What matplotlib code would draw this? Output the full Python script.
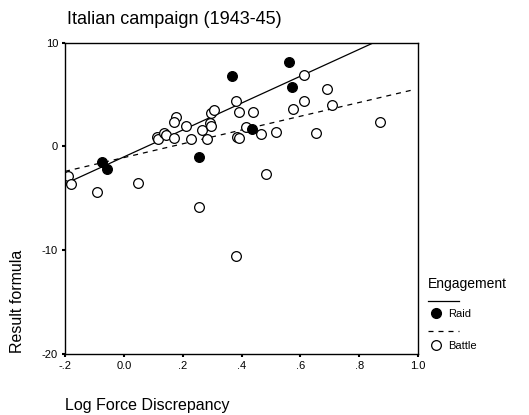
import matplotlib
matplotlib.use("Agg")
import matplotlib.pyplot as plt
from matplotlib.lines import Line2D
import numpy as np

plt.rcParams['font.family'] = ['Liberation Sans', 'DejaVu Sans']
plt.rcParams['axes.unicode_minus'] = False

# Raid engagements (filled)
raid_x = [-0.074, -0.057, 0.257, 0.368, 0.560, 0.570, 0.435]
raid_y = [-1.48, -2.15, -1.02, 6.82, 8.14, 5.73, 1.71]

# Battle engagements (open)
battle_x = [-0.189, -0.181, -0.090, 0.048, 0.257, 0.382, 0.112, 0.117, 0.138, 0.143,
            0.171, 0.178, 0.172, 0.210, 0.228, 0.265, 0.282, 0.293, 0.296, 0.297,
            0.307, 0.382, 0.390, 0.440, 0.386, 0.393, 0.416, 0.467, 0.484, 0.518,
            0.576, 0.611, 0.611, 0.654, 0.690, 0.707, 0.871]
battle_y = [-2.80, -3.57, -4.43, -3.53, -5.79, -10.57, 0.87, 0.71, 1.25, 1.10,
            0.81, 2.86, 2.38, 1.93, 0.74, 1.61, 0.71, 2.26, 1.95, 3.22,
            3.54, 4.41, 3.32, 3.32, 0.96, 0.77, 1.90, 1.20, -2.63, 1.39,
            3.60, 4.34, 6.85, 1.29, 5.53, 4.02, 2.32]

# fit lines (value at x=-0.2, slope)
raid_fit = (-3.6, 12.96)
battle_fit = (-2.4, 6.64)

xticks = [-0.2, 0.0, 0.2, 0.4, 0.6, 0.8, 1.0]
xticklabels = ['-.2', '0.0', '.2', '.4', '.6', '.8', '1.0']
yticks = [-20, -10, 0, 10]

W, H = 529, 415
fig = plt.figure(figsize=(W / 100, H / 100), dpi=100)
ax = fig.add_axes([65 / W, 1 - 354 / H, (418 - 65) / W, (354 - 42.7) / H])

xs = np.array([-0.2, 1.0])
ax.plot(xs, raid_fit[0] + raid_fit[1] * (xs + 0.2), color='black', lw=0.9)
xb = np.array([-0.2, 0.985])
ax.plot(xb, battle_fit[0] + battle_fit[1] * (xb + 0.2), color='black', lw=0.9,
        dashes=(4, 4))

ax.plot(battle_x, battle_y, 'o', ms=7, mfc='white', mec='black', mew=0.9)
ax.plot(raid_x, raid_y, 'o', ms=7, mfc='black', mec='black', mew=0.9)

ax.set_xlim(-0.2, 1.0)
ax.set_ylim(-20, 10)
ax.set_xticks(xticks)
ax.set_xticklabels(xticklabels)
ax.set_yticks(yticks)
ax.tick_params(direction='out', length=2, width=1.5, labelsize=8, pad=3)
for s in ax.spines.values():
    s.set_linewidth(1.0)

fig.text(67 / W, 1 - 24 / H, 'Italian campaign (1943-45)', fontsize=13, ha='left',
         va='baseline')
fig.text(65 / W, 1 - 410 / H, 'Log Force Discrepancy', fontsize=11.5, ha='left',
         va='baseline')
fig.text(25 / W, 1 - 353 / H, 'Result formula', fontsize=11.5, rotation=90,
         ha='right', va='bottom')

# legend
fig.text(428 / W, 1 - 288 / H, 'Engagement', fontsize=10, ha='left', va='baseline')
fig.add_artist(Line2D([428 / W, 459 / W], [1 - 300.5 / H, 1 - 300.5 / H],
                      color='black', lw=0.9))
fig.add_artist(Line2D([436 / W], [1 - 313 / H], marker='o', ms=7, mfc='black',
                      mec='black', lw=0))
fig.text(448 / W, 1 - 314 / H, 'Raid', fontsize=8, ha='left', va='center')
fig.add_artist(Line2D([428 / W, 459 / W], [1 - 331 / H, 1 - 331 / H],
                      color='black', lw=0.9, dashes=(4, 4)))
fig.add_artist(Line2D([436 / W], [1 - 345 / H], marker='o', ms=7, mfc='white',
                      mec='black', mew=0.9, lw=0))
fig.text(448 / W, 1 - 346 / H, 'Battle', fontsize=8, ha='left', va='center')

fig.savefig('out.png', dpi=100)
